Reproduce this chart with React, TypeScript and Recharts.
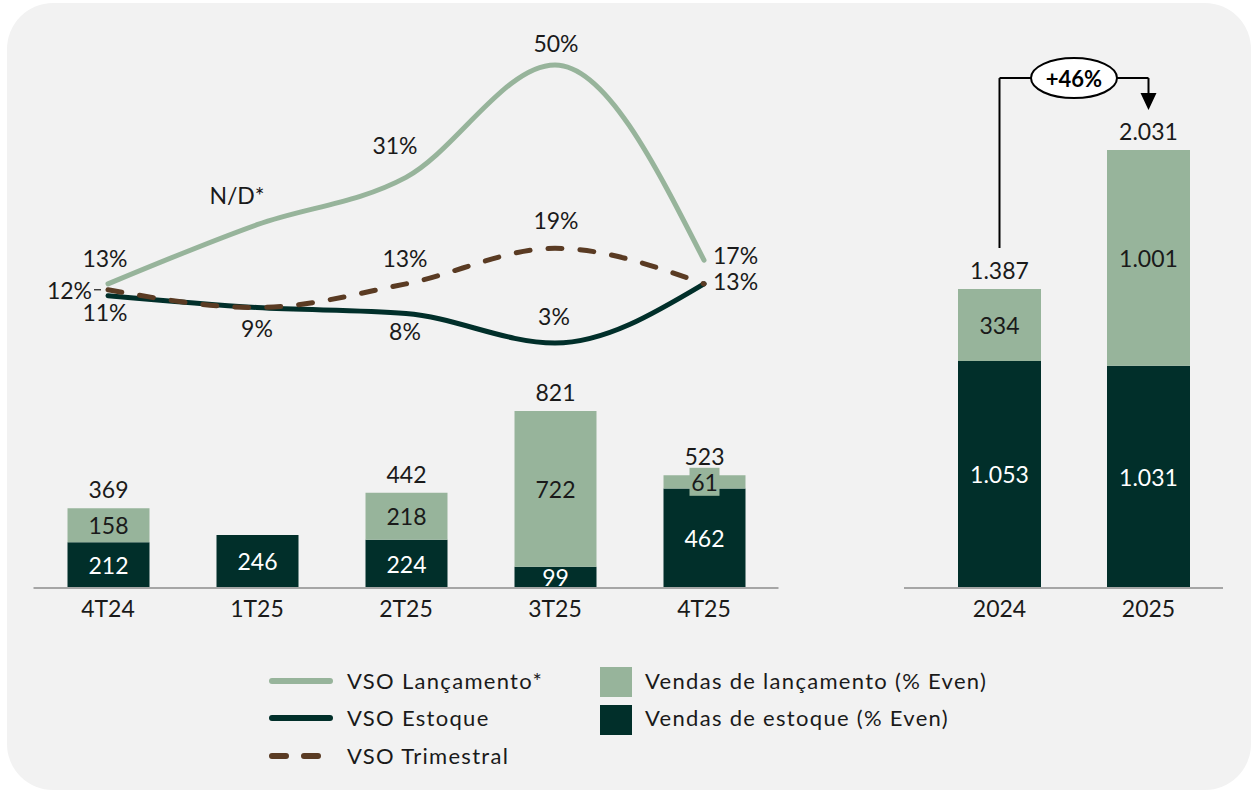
import React from 'react';
import {
  ComposedChart,
  Bar,
  Line,
  XAxis,
  YAxis,
  LabelList,
  ReferenceLine,
  ReferenceDot,
} from 'recharts';

const quarters = ['4T24', '1T25', '2T25', '3T25', '4T25'];
const vendasEstoque = [212, 246, 224, 99, 462];
const vendasLancamento = [158, 0, 218, 722, 61];
const totaisTrimestre = [369, null, 442, 821, 523];
const vsoLancamento = [13, 23, 31, 50, 17];
const vsoLancamentoLabels = ['13%', 'N/D*', '31%', '50%', '17%'];
const vsoEstoque = [11, 9, 8, 3, 13];
const vsoEstoqueLabels = ['11%', '9%', '8%', '3%', '13%'];
const vsoTrimestral = [12, 9, 13, 19, 13];
const vsoTrimestralLabels = ['12%', '', '13%', '19%', ''];

const anos = ['2024', '2025'];
const estoqueAno = [1053, 1031];
const lancamentoAno = [334, 1001];
const totalAno = [1387, 2031];
const crescimento = '+46%';

const LIGHT = '#97b49b';
const DARK = '#012f2a';
const BROWN = '#5a3b23';
const TEXT = '#1a1a1a';
const FONT = 'Lato, "Noto Sans", sans-serif';
const FS = 23;

const quarterData = quarters.map((q, i) => ({
  q,
  estoque: vendasEstoque[i],
  lancamento: vendasLancamento[i],
  total: totaisTrimestre[i],
  vsoLanc: vsoLancamento[i],
  vsoEst: vsoEstoque[i],
  vsoTri: vsoTrimestral[i],
}));

const yearData = anos.map((a, i) => ({
  a,
  estoque: estoqueAno[i],
  lancamento: lancamentoAno[i],
  total: totalAno[i],
}));

const fmt = (n: number) => String(n).replace(/\B(?=(\d{3})+(?!\d))/g, '.');

// bar value inside segment
const innerLabel = (color: string, boxed: boolean) => (props: any) => {
  const { x, y, width, height, value } = props;
  if (!value) return null;
  const cx = x + width / 2;
  const cy = y + height / 2;
  return (
    <g>
      {boxed && height < 22 && (
        <rect x={cx - 15} y={cy - 14} width={30} height={28} fill={LIGHT} />
      )}
      <text
        x={cx}
        y={cy}
        textAnchor="middle"
        dominantBaseline="central"
        fill={color}
        fontSize={FS}
        fontFamily={FONT}
      >
        {fmt(value)}
      </text>
    </g>
  );
};

const totalLabel = (props: any) => {
  const { x, y, width, value } = props;
  if (value == null) return null;
  return (
    <text
      x={x + width / 2}
      y={y - 19}
      textAnchor="middle"
      dominantBaseline="central"
      fill={TEXT}
      fontSize={FS}
      fontFamily={FONT}
    >
      {fmt(value)}
    </text>
  );
};

type Pos = { dx: number; dy: number; anchor?: string; leader?: boolean } | null;

const lancPos: Pos[] = [
  { dx: -3, dy: -26 },
  { dx: -20, dy: -30 },
  { dx: -11, dy: -32 },
  { dx: 1, dy: -22 },
  { dx: 9, dy: -5, anchor: 'start' },
];
const estPos: Pos[] = [
  { dx: -3, dy: 16 },
  { dx: 0, dy: 20 },
  { dx: -1, dy: 18 },
  { dx: -1, dy: -27 },
  { dx: 9, dy: -3, anchor: 'start' },
];
const triPos: Pos[] = [
  { dx: -16, dy: 0, anchor: 'end', leader: true },
  null,
  { dx: -1, dy: -26 },
  { dx: 1, dy: -28 },
  null,
];

const lineLabel = (texts: string[], pos: Pos[]) => (props: any) => {
  const { x, y, index } = props;
  const p = pos[index];
  const t = texts[index];
  if (!p || !t) return null;
  return (
    <g>
      {p.leader && (
        <line x1={x - 14} x2={x - 7} y1={y} y2={y} stroke={TEXT} strokeWidth={1.2} />
      )}
      <text
        x={x + p.dx}
        y={y + p.dy}
        textAnchor={p.anchor || 'middle'}
        dominantBaseline="central"
        fill={TEXT}
        fontSize={FS}
        fontFamily={FONT}
      >
        {t}
      </text>
    </g>
  );
};

const GrowthBadge = (props: any) => {
  const { viewBox } = props;
  const cx = viewBox.x + viewBox.width / 2;
  const cy = viewBox.y + viewBox.height / 2;
  return (
    <g>
      <ellipse cx={cx} cy={cy} rx={43} ry={20} fill="#fff" stroke="#000" strokeWidth={2} />
      <text
        x={cx}
        y={cy}
        textAnchor="middle"
        dominantBaseline="central"
        fontSize={22}
        fontWeight={700}
        fontFamily={FONT}
        fill="#000"
      >
        {crescimento}
      </text>
    </g>
  );
};

const ArrowHead = (props: any) => {
  const { cx, cy } = props;
  return <path d={`M${cx - 8},${cy - 17} L${cx + 8},${cy - 17} L${cx},${cy} Z`} fill="#000" />;
};

const tickStyle = { fill: TEXT, fontSize: FS, fontFamily: FONT };

const LegendLine = ({ dashed, color }: { dashed?: boolean; color: string }) => (
  <svg width={66} height={10} style={{ display: 'block' }}>
    <line
      x1={4}
      x2={62}
      y1={5}
      y2={5}
      stroke={color}
      strokeWidth={6}
      strokeLinecap="round"
      strokeDasharray={dashed ? '14 18' : undefined}
    />
  </svg>
);

export default function App() {
  const legendText: React.CSSProperties = {
    position: 'absolute',
    fontSize: 22,
    letterSpacing: 1.3,
    fontFamily: FONT,
    color: TEXT,
    lineHeight: '24px',
    whiteSpace: 'nowrap',
  };
  return (
    <div style={{ position: 'absolute', left: 0, top: 0, width: 1259, height: 793, background: '#fff' }}>
      <div
        style={{
          position: 'absolute',
          left: 7,
          top: 3,
          width: 1244,
          height: 787,
          background: '#f2f2f2',
          borderRadius: 46,
        }}
      />
      <div style={{ position: 'absolute', left: 0, top: 0 }}>
        <ComposedChart
          width={800}
          height={640}
          data={quarterData}
          margin={{ top: 30, left: 33.5, right: 21.5, bottom: 12 }}
        >
          <XAxis
            dataKey="q"
            height={40}
            tickLine={false}
            tickMargin={7}
            stroke="#a6a6a6"
            strokeWidth={2}
            tick={tickStyle}
          />
          <YAxis yAxisId="bar" hide domain={[0, 2588]} />
          <YAxis yAxisId="pct" hide domain={[-38.4, 55.9]} />
          <Bar yAxisId="bar" dataKey="estoque" stackId="s" fill={DARK} barSize={82} isAnimationActive={false}>
            <LabelList dataKey="estoque" content={innerLabel('#fff', false)} />
          </Bar>
          <Bar yAxisId="bar" dataKey="lancamento" stackId="s" fill={LIGHT} barSize={82} isAnimationActive={false}>
            <LabelList dataKey="lancamento" content={innerLabel(TEXT, true)} />
            <LabelList dataKey="total" content={totalLabel} />
          </Bar>
          <Line
            yAxisId="pct"
            type="monotone"
            dataKey="vsoLanc"
            stroke={LIGHT}
            strokeWidth={5}
            strokeLinecap="round"
            dot={false}
            isAnimationActive={false}
          >
            <LabelList dataKey="vsoLanc" content={lineLabel(vsoLancamentoLabels, lancPos)} />
          </Line>
          <Line
            yAxisId="pct"
            type="monotone"
            dataKey="vsoEst"
            stroke={DARK}
            strokeWidth={5}
            strokeLinecap="round"
            dot={false}
            isAnimationActive={false}
          >
            <LabelList dataKey="vsoEst" content={lineLabel(vsoEstoqueLabels, estPos)} />
          </Line>
          <Line
            yAxisId="pct"
            type="monotone"
            dataKey="vsoTri"
            stroke={BROWN}
            strokeWidth={5}
            strokeLinecap="round"
            strokeDasharray="14 18"
            dot={false}
            isAnimationActive={false}
          >
            <LabelList dataKey="vsoTri" content={lineLabel(vsoTrimestralLabels, triPos)} />
          </Line>
        </ComposedChart>
      </div>
      <div style={{ position: 'absolute', left: 880, top: 0 }}>
        <ComposedChart
          width={379}
          height={640}
          data={yearData}
          margin={{ top: 30, left: 24, right: 36, bottom: 12 }}
        >
          <XAxis
            dataKey="a"
            height={40}
            tickLine={false}
            tickMargin={7}
            stroke="#a6a6a6"
            strokeWidth={2}
            tick={tickStyle}
            padding={{ left: 21, right: 0 }}
          />
          <YAxis yAxisId="bar" hide domain={[0, 2588]} />
          <Bar yAxisId="bar" dataKey="estoque" stackId="s" fill={DARK} barSize={83} isAnimationActive={false}>
            <LabelList dataKey="estoque" content={innerLabel('#fff', false)} />
          </Bar>
          <Bar yAxisId="bar" dataKey="lancamento" stackId="s" fill={LIGHT} barSize={83} isAnimationActive={false}>
            <LabelList dataKey="lancamento" content={innerLabel(TEXT, true)} />
            <LabelList dataKey="total" content={totalLabel} />
          </Bar>
          <ReferenceLine
            yAxisId="bar"
            segment={[{ x: '2024', y: 1577 }, { x: '2024', y: 2365 }]}
            stroke="#000"
            strokeWidth={2}
          />
          <ReferenceLine
            yAxisId="bar"
            segment={[{ x: '2025', y: 2365 }, { x: '2025', y: 2280 }]}
            stroke="#000"
            strokeWidth={2}
          />
          <ReferenceLine
            yAxisId="bar"
            segment={[{ x: '2024', y: 2365 }, { x: '2025', y: 2365 }]}
            stroke="#000"
            strokeWidth={2}
            label={<GrowthBadge />}
          />
          <ReferenceDot yAxisId="bar" x="2025" y={2217} shape={<ArrowHead />} />
        </ComposedChart>
      </div>
      {/* legend */}
      <div style={{ position: 'absolute', left: 268, top: 676 }}>
        <LegendLine color={LIGHT} />
      </div>
      <div style={{ position: 'absolute', left: 268, top: 713 }}>
        <LegendLine color={DARK} />
      </div>
      <div style={{ position: 'absolute', left: 268, top: 751 }}>
        <LegendLine color={BROWN} dashed />
      </div>
      <div style={{ ...legendText, left: 347, top: 669 }}>VSO Lançamento*</div>
      <div style={{ ...legendText, left: 347, top: 706 }}>VSO Estoque</div>
      <div style={{ ...legendText, left: 347, top: 744 }}>VSO Trimestral</div>
      <div style={{ position: 'absolute', left: 600, top: 667, width: 32, height: 30, background: LIGHT }} />
      <div style={{ position: 'absolute', left: 600, top: 705, width: 32, height: 30, background: DARK }} />
      <div style={{ ...legendText, left: 645, top: 669 }}>Vendas de lançamento (% Even)</div>
      <div style={{ ...legendText, left: 645, top: 706 }}>Vendas de estoque (% Even)</div>
    </div>
  );
}
